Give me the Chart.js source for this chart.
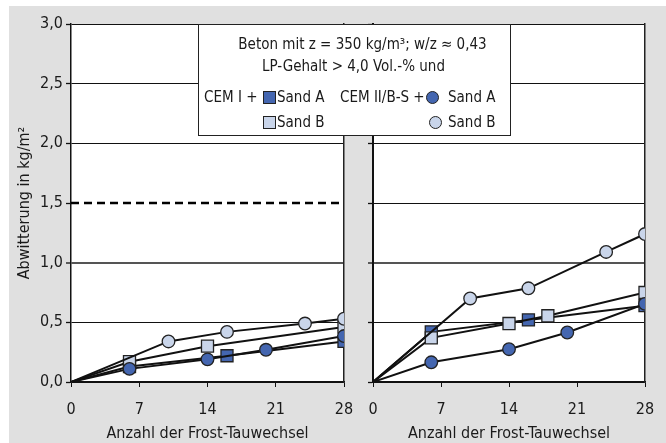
<!DOCTYPE html>
<html>
<head>
<meta charset="utf-8">
<script src="https://cdn.jsdelivr.net/npm/chart.js@4.4.1/dist/chart.umd.min.js"></script>
<style>
  html, body { margin: 0; padding: 0; background: #ffffff; }
  #wrap { position: relative; width: 666px; height: 443px; overflow: hidden; font-family: 'Liberation Sans Narrow', 'Arial Narrow', 'DejaVu Sans Condensed', sans-serif; color: #1a1a1a; }
  #bg { position: absolute; left: 9px; top: 6px; width: 657px; height: 437px; background: #e0e0e0; }
  canvas { position: absolute; top: 0; }
  #c1 { left: 0; }
  #c2 { left: 344px; }
  #legend { position: absolute; left: 198px; top: 24px; width: 311px; height: 110px; background: #fff; border: 1.5px solid #222; }
  .t { position: absolute; white-space: nowrap; font-size: 15px; line-height: 20px; height: 20px; }
  .c { text-align: center; }
  .sq { position: absolute; width: 13px; height: 13px; box-sizing: border-box; border: 1.3px solid #222; }
  .ci { position: absolute; width: 13px; height: 13px; box-sizing: border-box; border: 1.3px solid #222; border-radius: 50%; }
</style>
</head>
<body>
<div id="wrap">
  <div id="bg"></div>
  <canvas id="c1" width="360" height="443" style="width:360px;height:443px"></canvas>
  <canvas id="c2" width="322" height="443" style="width:322px;height:443px"></canvas>
  <div id="legend"></div>
</div>
<script>
// ---- data ----
const yTicks = [0, 0.5, 1.0, 1.5, 2.0, 2.5, 3.0];
const xTicks = [0, 7, 14, 21, 28];
const limitValue = 1.5;

// left panel
const L_cem1_sandA_x = [0, 6, 16, 28];
const L_cem1_sandA_y = [0, 0.13, 0.22, 0.34];
const L_cem1_sandB_x = [0, 6, 14, 28];
const L_cem1_sandB_y = [0, 0.17, 0.30, 0.46];
const L_cem2_sandA_x = [0, 6, 14, 20, 28];
const L_cem2_sandA_y = [0, 0.11, 0.19, 0.27, 0.385];
const L_cem2_sandB_x = [0, 10, 16, 24, 28];
const L_cem2_sandB_y = [0, 0.34, 0.42, 0.49, 0.53];

// right panel
const R_cem1_sandA_x = [0, 6, 16, 28];
const R_cem1_sandA_y = [0, 0.42, 0.52, 0.64];
const R_cem1_sandB_x = [0, 6, 14, 18, 28];
const R_cem1_sandB_y = [0, 0.37, 0.49, 0.555, 0.75];
const R_cem2_sandA_x = [0, 6, 14, 20, 28];
const R_cem2_sandA_y = [0, 0.165, 0.275, 0.415, 0.655];
const R_cem2_sandB_x = [0, 10, 16, 24, 28];
const R_cem2_sandB_y = [0, 0.70, 0.785, 1.09, 1.24];

const xTitle = 'Anzahl der Frost-Tauwechsel';
const yTitle = 'Abwitterung in kg/m²';

// ---- styles ----
const FONT = "'Liberation Sans Narrow', 'Arial Narrow', 'DejaVu Sans Condensed', sans-serif";
const DARK = '#4466b0';
const LIGHT = '#c9d5ea';
const TXT = '#1a1a1a';

function pts(xs, ys) { return xs.map((x, i) => ({ x: x, y: ys[i] })); }
function fmt(v) { return v.toFixed(1).replace('.', ','); }

function series(xs, ys, fill, style, order) {
  return {
    data: pts(xs, ys),
    borderColor: '#111',
    borderWidth: 2,
    backgroundColor: fill,
    pointBackgroundColor: fill,
    pointBorderColor: '#222',
    pointBorderWidth: 1.3,
    pointStyle: style,
    pointRadius: (c) => c.dataIndex === 0 ? 0 : (style === 'rect' ? 8.5 : 6.3),
    pointHoverRadius: (c) => c.dataIndex === 0 ? 0 : (style === 'rect' ? 8.5 : 6.3),
    tension: 0,
    fill: false,
    order: order
  };
}

const whiteArea = {
  id: 'whiteArea',
  beforeDraw(chart) {
    const a = chart.chartArea, ctx = chart.ctx;
    ctx.save();
    ctx.fillStyle = '#ffffff';
    ctx.fillRect(a.left, a.top, a.right - a.left, a.bottom - a.top);
    ctx.restore();
  }
};

function gridColor(c, dashedHidden) {
  const v = c.tick && c.tick.value;
  if (dashedHidden && Math.abs(v - limitValue) < 1e-6) return 'rgba(0,0,0,0)';
  if (Math.abs(v - 1.0) < 1e-6) return '#555555';
  return '#111111';
}
function gridWidth(c) {
  const v = c.tick && c.tick.value;
  if (Math.abs(v - 1.0) < 1e-6) return 2;
  return 1;
}

function makeOptions(isLeft) {
  return {
    responsive: false,
    animation: false,
    events: [],
    layout: { padding: { top: 24, right: isLeft ? 16 : 21, left: 0, bottom: 0 } },
    plugins: { legend: { display: false }, tooltip: { enabled: false } },
    scales: {
      x: {
        type: 'linear', min: 0, max: 28,
        afterBuildTicks: (s) => { s.ticks = xTicks.map(v => ({ value: v })); },
        ticks: { color: TXT, font: { family: FONT, size: 16 }, padding: 13, callback: (v) => String(v) },
        grid: { drawOnChartArea: false, drawTicks: true, tickLength: 5, color: '#111', lineWidth: 1 },
        border: { display: true, color: '#111', width: 1.5 },
        title: { display: true, text: xTitle, color: TXT, font: { family: FONT, size: 16 }, padding: { top: 0, bottom: 0 } },
        afterFit: (s) => { s.height = 61; s.paddingLeft = 0; s.paddingRight = 0; }
      },
      y: {
        type: 'linear', min: 0, max: 3,
        afterBuildTicks: (s) => { s.ticks = yTicks.map(v => ({ value: v })); },
        ticks: { display: isLeft, color: TXT, font: { family: FONT, size: 16 }, padding: 3, callback: (v) => fmt(v) },
        grid: {
          drawOnChartArea: true, drawTicks: true, tickLength: 5,
          color: (c) => gridColor(c, isLeft), lineWidth: (c) => gridWidth(c),
          tickColor: '#111', tickWidth: 1.3
        },
        border: { display: true, color: '#111', width: isLeft ? 1.5 : 2 },
        title: { display: isLeft, text: yTitle, color: TXT, font: { family: FONT, size: 16 }, padding: { top: 15, bottom: 0 } },
        afterFit: (s) => { s.width = isLeft ? 71 : 29; s.paddingTop = 0; s.paddingBottom = 0; }
      },
      yR: {
        type: 'linear', position: 'right', min: 0, max: 3,
        ticks: { display: false },
        grid: { display: false, drawTicks: false },
        border: { display: true, color: '#222', width: 1.5 },
        afterFit: (s) => { s.width = 0; }
      }
    }
  };
}

const leftDatasets = [
  series(L_cem1_sandA_x, L_cem1_sandA_y, DARK, 'rect', 5),
  series(L_cem1_sandB_x, L_cem1_sandB_y, LIGHT, 'rect', 4),
  series(L_cem2_sandA_x, L_cem2_sandA_y, DARK, 'circle', 3),
  series(L_cem2_sandB_x, L_cem2_sandB_y, LIGHT, 'circle', 2),
  {
    data: [{ x: 0, y: limitValue }, { x: 28, y: limitValue }],
    borderColor: '#000', borderWidth: 2.5, borderDash: [8, 5],
    pointRadius: 0, pointHoverRadius: 0, fill: false, order: 6
  }
];
const rightDatasets = [
  series(R_cem1_sandA_x, R_cem1_sandA_y, DARK, 'rect', 5),
  series(R_cem1_sandB_x, R_cem1_sandB_y, LIGHT, 'rect', 4),
  series(R_cem2_sandA_x, R_cem2_sandA_y, DARK, 'circle', 3),
  series(R_cem2_sandB_x, R_cem2_sandB_y, LIGHT, 'circle', 2)
];

new Chart(document.getElementById('c1'), { type: 'line', data: { datasets: leftDatasets }, options: makeOptions(true), plugins: [whiteArea] });
new Chart(document.getElementById('c2'), { type: 'line', data: { datasets: rightDatasets }, options: makeOptions(false), plugins: [whiteArea] });

// ---- legend (HTML text) ----
const legend = document.getElementById('legend');
const OX = 198, OY = 24;
function addText(txt, x, cy, centered) {
  const d = document.createElement('div');
  d.className = 't' + (centered ? ' c' : '');
  d.textContent = txt;
  if (centered) { d.style.left = (x - 200 - OX) + 'px'; d.style.width = '400px'; }
  else d.style.left = (x - OX) + 'px';
  d.style.top = (cy - 10 - OY) + 'px';
  legend.appendChild(d);
}
function addMarker(cls, fill, x, cy, size) {
  const d = document.createElement('div');
  d.className = cls;
  d.style.background = fill;
  d.style.left = (x - OX) + 'px';
  d.style.top = (cy - size / 2 - OY) + 'px';
  legend.appendChild(d);
}
addText('Beton mit z = 350 kg/m³; w/z ≈ 0,43', 361.5, 43, true);
addText('LP-Gehalt > 4,0 Vol.-% und', 352.5, 65, true);
addText('CEM I +', 203, 96, false);
addMarker('sq', DARK, 262, 96, 13);
addText('Sand A', 276, 96, false);
addText('CEM II/B-S +', 339, 96, false);
addMarker('ci', DARK, 425, 96, 13);
addText('Sand A', 447, 96, false);
addMarker('sq', LIGHT, 262, 121, 13);
addText('Sand B', 276, 121, false);
addMarker('ci', LIGHT, 428, 121, 13);
addText('Sand B', 447, 121, false);
</script>
</body>
</html>
